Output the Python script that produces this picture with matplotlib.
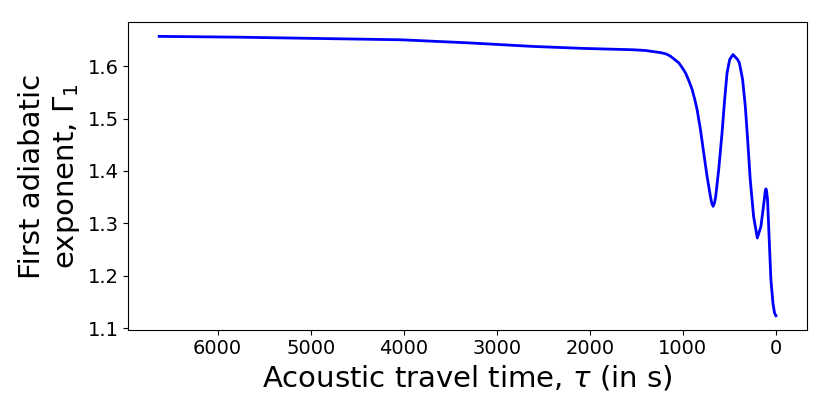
import numpy as np
import matplotlib
matplotlib.use('Agg')
import matplotlib.pyplot as plt

# acoustic travel time (s) and first adiabatic exponent
tau = [6628, 5777, 4920, 4027, 3312, 2598, 2062, 1526, 1400, 1240, 1180, 1133,
       1090, 1044, 1010, 972, 935, 900, 870, 847, 811, 776, 740, 704, 690, 675,
       660, 647, 615, 579, 551, 525, 497, 461, 412, 393, 358, 329, 304, 276,
       240, 200, 161, 125, 115, 107, 100, 90, 72, 54, 32, 15, 0]
gamma1 = [1.657, 1.6555, 1.653, 1.6505, 1.6447, 1.6377, 1.634, 1.6314, 1.630,
          1.626, 1.6235, 1.6191, 1.613, 1.6065, 1.598, 1.5874, 1.572, 1.5555,
          1.535, 1.5172, 1.479, 1.4345, 1.3898, 1.3515, 1.339, 1.3324, 1.339,
          1.3515, 1.4025, 1.4727, 1.5364, 1.5874, 1.6128, 1.6224, 1.6128,
          1.6065, 1.5746, 1.5235, 1.4598, 1.3834, 1.3133, 1.272, 1.2942,
          1.3452, 1.361, 1.3657, 1.361, 1.3452, 1.2688, 1.1923, 1.1478, 1.1287,
          1.1235]


def make_plot():
   fig = plt.figure(figsize=(8.3, 4.15), dpi=100)
   ax = fig.add_axes([0.1546, 0.2055, 0.8174, 0.7405])
   ax.plot(tau, gamma1, '-', color='b', lw=2)
   ax.invert_xaxis()
   ax.set_xticks([6000, 5000, 4000, 3000, 2000, 1000, 0])
   ax.set_yticks([1.1, 1.2, 1.3, 1.4, 1.5, 1.6])
   ax.tick_params(labelsize=14)
   ax.set_xlabel(r'Acoustic travel time, $\tau$ (in s)', fontsize=21)
   ax.set_ylabel('First adiabatic\n' + r'exponent, $\Gamma_1$', fontsize=21)
   fig.savefig('out.png', dpi=100)
   plt.close(fig)


if __name__ == '__main__':
   make_plot()
